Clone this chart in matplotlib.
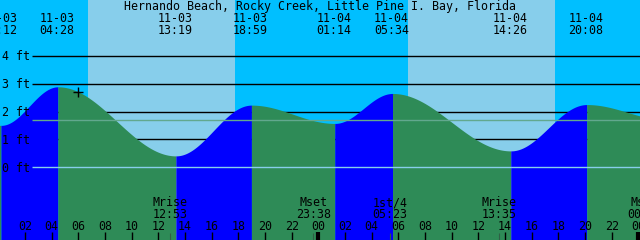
import numpy as np
import matplotlib
matplotlib.use("Agg")
import matplotlib.pyplot as plt

# ---- data (hours counted from 11-03 00:00) ----
title = "Hernando Beach, Rocky Creek, Little Pine I. Bay, Florida"

# tide extremes shown in the header
ext_dates = ["11-03", "11-03", "11-03", "11-03", "11-04", "11-04", "11-04", "11-04"]
ext_clock = ["00:12", "04:28", "13:19", "18:59", "01:14", "05:34", "14:26", "20:08"]
ext_feet = [1.50, 2.89, 0.40, 2.23, 1.57, 2.65, 0.58, 2.25]
# extremes just outside the window (keep the curve going to the edges)
prev_ext = ("11-02", "18:00", 2.30)
next_ext = ("11-05", "02:10", 1.70)

# daylight (sunrise, sunset)
daylight = [("11-03", "06:44", "17:45"), ("11-04", "06:44", "17:45")]

# moon events along the bottom
moon_names = ["Mrise", "Mset", "1st/4", "Mrise", "Mset"]
moon_dates = ["11-03", "11-03", "11-04", "11-04", "11-05"]
moon_clock = ["12:53", "23:38", "05:23", "13:35", "00:30"]

# "now" marker
now_clock = ("11-03", "06:00")
now_feet = 2.71

ft_levels = [4, 3, 2, 1, 0]
msl_feet = 1.68

# ---- scale: 640 px for 48 h, 27.75 px per foot, 0 ft at y=167 px ----
PX_PER_HR = 640 / 48.0
T0 = 0.127
PX_PER_FT = 27.75
Y0 = 167.0

day_of = {"11-02": -24, "11-03": 0, "11-04": 24, "11-05": 48}


def hours(date, clock):
    hh, mm = clock.split(":")
    return day_of[date] + int(hh) + int(mm) / 60.0


def tx(xpx):
    return xpx / PX_PER_HR + T0


def fy(ypx):
    return (Y0 - ypx) / PX_PER_FT


NIGHT = "#00BFFF"
DAY = "#87CEEB"
RISE = "#0000FF"
FALL = "#2E8B57"

fig = plt.figure(figsize=(6.4, 2.4), dpi=100)
ax = fig.add_axes([0, 0, 1, 1])
ax.set_xlim(tx(0), tx(640))
ax.set_ylim(fy(240), fy(0))
ax.axis("off")
ax.set_facecolor(NIGHT)
fig.patch.set_facecolor(NIGHT)
ax.add_patch(plt.Rectangle((tx(0), fy(240)), tx(640) - tx(0), fy(0) - fy(240),
                           color=NIGHT, zorder=0))

for d, sr, ss in daylight:
    ax.axvspan(hours(d, sr), hours(d, ss), color=DAY, lw=0, zorder=1)

font = dict(family="DejaVu Sans Mono", fontsize=8.4, color="black")

# grid lines under the water
ax.hlines([l for l in ft_levels if l > 0], tx(32), tx(640), color="black", lw=1.0, zorder=2)
for l in ft_levels:
    ax.text(tx(2), fy(Y0 - l * PX_PER_FT + 4.5), f"{l} ft", ha="left", va="baseline",
            zorder=6, **font)

# tide curve, rising in blue, falling in green
ts = [hours(*prev_ext[:2])] + [hours(d, c) for d, c in zip(ext_dates, ext_clock)] + [hours(*next_ext[:2])]
hs = [prev_ext[2]] + ext_feet + [next_ext[2]]
bottom = fy(240)
for i in range(len(ts) - 1):
    t0, t1, h0, h1 = ts[i], ts[i + 1], hs[i], hs[i + 1]
    t = np.linspace(t0, t1, 300)
    h = h1 + (h0 - h1) * (1 + np.cos(np.pi * (t - t0) / (t1 - t0))) / 2
    ax.fill_between(t, h, bottom, color=RISE if h1 > h0 else FALL, lw=0, zorder=3)

# datum and mean sea level lines over the water
ax.hlines([0], tx(32), tx(640), color=DAY, lw=1.0, zorder=4)
ax.hlines([msl_feet], tx(32), tx(640), color="#62A88E", lw=1.0, zorder=4)

# now marker
ax.plot([hours(*now_clock)], [now_feet], marker="+", color="black", ms=6.5, mew=1.0, zorder=5)

# header
ax.text(tx(320), fy(9.5), title, ha="center", va="baseline", zorder=6, **font)
for d, c in zip(ext_dates, ext_clock):
    t = hours(d, c) - 0.08
    ax.text(t, fy(22), d, ha="center", va="baseline", zorder=6, **font)
    ax.text(t, fy(34), c, ha="center", va="baseline", zorder=6, **font)

# hour ticks along the bottom
for hr in range(2, 49, 2):
    lab = f"{hr % 24:02d}"
    ax.text(hr, fy(230), lab, ha="center", va="baseline", zorder=6, **font)
    ax.vlines(hr, fy(240), fy(232), color="black", lw=3.0 if hr % 24 == 0 else 1.0, zorder=6)

# moon events
for n, d, c in zip(moon_names, moon_dates, moon_clock):
    t = hours(d, c)
    ax.text(t, fy(206.5), n, ha="center", va="baseline", zorder=6, **font)
    ax.text(t, fy(218.3), c, ha="center", va="baseline", zorder=6, **font)
    ax.vlines(t, fy(240), fy(233), color="#2F5F45", lw=0.8, zorder=5)

fig.savefig("out.png", dpi=100, facecolor=NIGHT)
